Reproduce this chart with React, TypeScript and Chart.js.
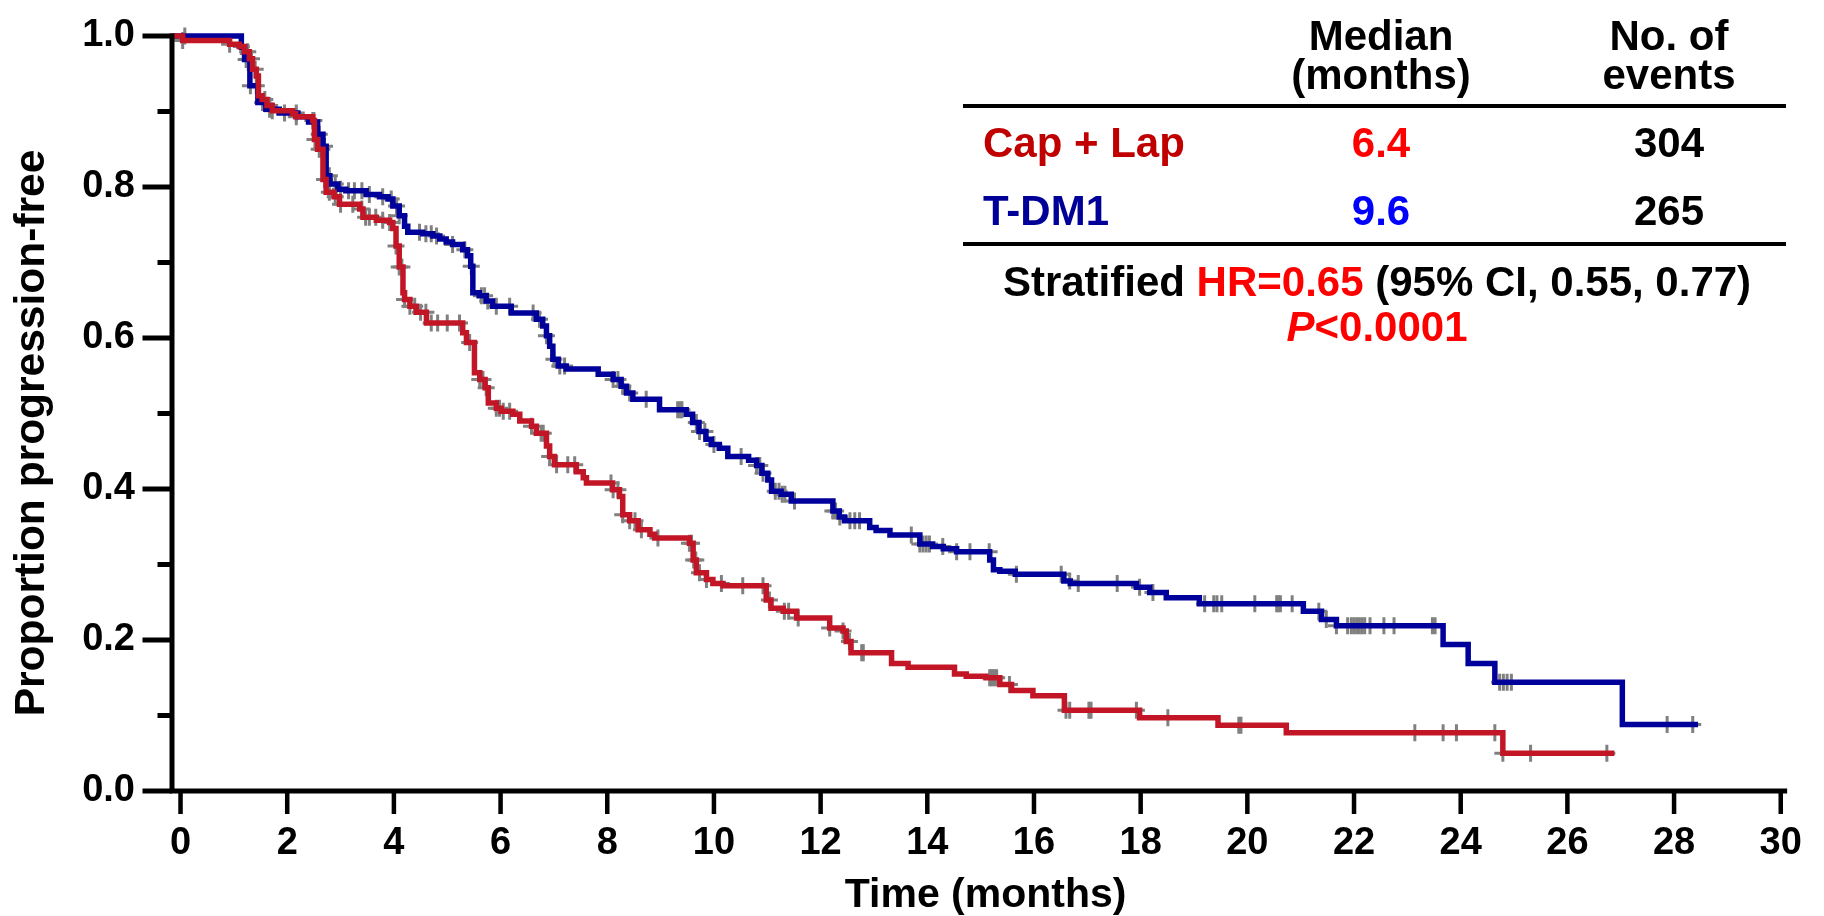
import React, { useEffect, useRef } from "react";
import { Chart, registerables } from "chart.js";

Chart.register(...registerables);

// ---------- data ----------
// Cap + Lap (red): event times (months) and survival after each drop
const capLapTimes = [0, 0.04, 0.92, 1.1, 1.2, 1.29, 1.35, 1.42, 1.46, 1.53, 1.62, 1.72, 2.1, 2.16, 2.48, 2.51, 2.57, 2.67, 2.73, 2.88, 2.98, 3.36, 3.42, 3.67, 3.92, 3.98, 4.04, 4.1, 4.17, 4.2, 4.3, 4.42, 4.61, 5.29, 5.36, 5.51, 5.61, 5.71, 5.77, 5.92, 6.01, 6.23, 6.36, 6.58, 6.67, 6.86, 6.92, 7.01, 7.42, 7.55, 7.61, 8.1, 8.23, 8.29, 8.42, 8.58, 8.8, 8.89, 9.54, 9.61, 9.67, 9.86, 9.98, 10.17, 10.98, 11.07, 11.3, 11.55, 12.17, 12.42, 12.48, 12.57, 13.33, 13.64, 14.51, 14.73, 15.1, 15.36, 15.58, 15.98, 16.57, 17.98, 19.45, 20.73, 24.79];
const capLapSurv = [1.0, 0.994, 0.989, 0.986, 0.979, 0.97, 0.956, 0.947, 0.921, 0.916, 0.908, 0.901, 0.897, 0.893, 0.888, 0.863, 0.85, 0.81, 0.793, 0.787, 0.777, 0.771, 0.76, 0.756, 0.753, 0.745, 0.722, 0.694, 0.66, 0.651, 0.642, 0.634, 0.62, 0.607, 0.594, 0.554, 0.545, 0.534, 0.514, 0.507, 0.503, 0.499, 0.49, 0.483, 0.474, 0.457, 0.443, 0.432, 0.423, 0.415, 0.408, 0.399, 0.39, 0.366, 0.358, 0.346, 0.34, 0.335, 0.328, 0.306, 0.289, 0.28, 0.275, 0.272, 0.253, 0.242, 0.238, 0.229, 0.216, 0.212, 0.198, 0.183, 0.169, 0.164, 0.155, 0.152, 0.15, 0.141, 0.133, 0.126, 0.107, 0.097, 0.087, 0.077, 0.05];
const capLapLastFollowUp = 26.88;
const capLapCensored = [0.04, 0.92, 1.14, 1.26, 1.33, 1.4, 1.58, 1.67, 1.72, 2.17, 2.48, 2.5, 2.52, 2.55, 2.6, 2.65, 2.7, 2.79, 2.9, 3.0, 3.23, 3.4, 3.47, 3.54, 3.66, 3.79, 3.92, 4.04, 4.1, 4.15, 4.2, 4.3, 4.39, 4.5, 4.6, 4.7, 4.82, 5.0, 5.23, 5.42, 5.61, 5.67, 5.73, 5.92, 5.98, 6.05, 6.17, 6.58, 6.76, 6.8, 6.92, 7.05, 7.26, 7.39, 8.07, 8.11, 8.2, 8.29, 8.42, 8.52, 8.64, 8.95, 9.54, 9.58, 9.62, 9.66, 9.73, 9.86, 10.14, 10.54, 10.92, 11.04, 11.32, 11.4, 11.58, 12.17, 12.42, 12.54, 12.77, 12.8, 15.17, 15.2, 15.23, 15.27, 15.3, 15.54, 16.6, 16.67, 17.03, 17.07, 17.92, 18.51, 19.84, 19.88, 23.14, 23.67, 23.92, 24.64, 24.79, 25.31, 26.74];

// T-DM1 (blue)
const tdm1Times = [0, 1.14, 1.2, 1.3, 1.45, 1.6, 1.85, 2.2, 2.4, 2.57, 2.67, 2.73, 2.8, 2.95, 3.1, 3.48, 3.73, 3.89, 3.98, 4.1, 4.2, 4.26, 4.54, 4.73, 4.86, 4.98, 5.1, 5.29, 5.38, 5.44, 5.48, 5.6, 5.73, 5.85, 6.2, 6.67, 6.79, 6.86, 6.92, 6.98, 7.08, 7.23, 7.83, 8.11, 8.26, 8.36, 8.48, 8.98, 9.48, 9.6, 9.72, 9.85, 9.95, 10.1, 10.26, 10.65, 10.8, 10.9, 11.01, 11.08, 11.26, 11.45, 12.23, 12.35, 12.45, 12.92, 13.04, 13.3, 13.86, 14.1, 14.3, 14.55, 15.17, 15.24, 15.36, 15.65, 16.56, 16.68, 17.92, 18.17, 18.48, 19.1, 21.05, 21.39, 21.67, 23.67, 24.14, 24.64, 27.03];
const tdm1Surv = [1.0, 0.985, 0.969, 0.934, 0.912, 0.903, 0.898, 0.893, 0.886, 0.87, 0.854, 0.815, 0.804, 0.797, 0.795, 0.79, 0.787, 0.784, 0.775, 0.762, 0.748, 0.74, 0.738, 0.735, 0.731, 0.727, 0.724, 0.717, 0.709, 0.695, 0.66, 0.656, 0.649, 0.642, 0.633, 0.625, 0.616, 0.603, 0.589, 0.572, 0.563, 0.559, 0.552, 0.545, 0.536, 0.527, 0.519, 0.505, 0.499, 0.488, 0.476, 0.466, 0.459, 0.454, 0.443, 0.438, 0.431, 0.421, 0.412, 0.397, 0.393, 0.384, 0.371, 0.363, 0.358, 0.349, 0.345, 0.339, 0.327, 0.324, 0.321, 0.317, 0.306, 0.293, 0.291, 0.287, 0.278, 0.275, 0.27, 0.263, 0.256, 0.248, 0.238, 0.227, 0.219, 0.194, 0.169, 0.144, 0.088];
const tdm1LastFollowUp = 28.45;
const tdm1Censored = [0.08, 1.23, 1.31, 1.42, 1.54, 1.67, 1.95, 2.17, 2.6, 2.7, 2.79, 2.9, 3.0, 3.15, 3.26, 3.4, 3.54, 3.79, 3.95, 4.05, 4.1, 4.48, 4.6, 4.7, 4.8, 5.1, 5.33, 5.45, 5.64, 5.7, 5.76, 5.92, 6.17, 6.61, 6.73, 6.86, 7.0, 7.11, 7.2, 8.11, 8.2, 8.29, 8.42, 8.73, 9.32, 9.36, 9.4, 9.67, 9.73, 9.83, 10.0, 10.51, 10.8, 10.86, 10.92, 11.15, 11.22, 11.28, 11.33, 11.51, 12.23, 12.28, 12.36, 12.55, 12.64, 12.73, 13.7, 13.86, 13.92, 13.98, 14.04, 14.29, 14.55, 14.8, 15.16, 15.67, 16.51, 16.67, 16.83, 17.56, 17.98, 18.23, 19.2, 19.37, 19.43, 19.52, 20.14, 20.55, 20.58, 20.62, 20.84, 21.34, 21.48, 21.67, 21.88, 21.95, 22.0, 22.05, 22.1, 22.15, 22.2, 22.3, 22.56, 22.75, 23.47, 23.52, 24.73, 24.8, 24.87, 24.95, 27.87, 28.35];

// axes
const xAxisMin = -0.16;
const xAxisMax = 30.12;
const xTickValues = [0, 2, 4, 6, 8, 10, 12, 14, 16, 18, 20, 22, 24, 26, 28, 30];
const yTickValues = [0, 0.2, 0.4, 0.6, 0.8, 1.0];
const yMinorTickValues = [0.1, 0.3, 0.5, 0.7, 0.9];
const xAxisTitle = "Time (months)";
const yAxisTitle = "Proportion progression-free";

// summary table
const tableHeaders = [["Median", "(months)"], ["No. of", "events"]];
const armNames = ["Cap + Lap", "T-DM1"];
const armMedians = ["6.4", "9.6"];
const armEvents = ["304", "265"];
const hrParts = ["Stratified ", "HR=0.65", " (95% CI, 0.55, 0.77)"];
const pParts = ["P", "<0.0001"];

// ---------- styling ----------
const FONT = '"Liberation Sans", Arial, Helvetica, sans-serif';
const RED_LINE = "rgb(194, 22, 38)";
const BLUE_LINE = "rgb(0, 0, 155)";
const GRAY = "rgb(128, 128, 128)";
const ARM_NAME_COLORS = ["rgb(192, 0, 0)", "rgb(0, 0, 153)"];
const ARM_MEDIAN_COLORS = ["rgb(255, 0, 0)", "rgb(0, 0, 255)"];

// step curve, drawn from the y-axis (axis minimum) to the last follow-up time
function stepPoints(times: number[], surv: number[], end: number) {
  const n = Math.min(times.length, surv.length);
  const pts: { x: number; y: number }[] = [{ x: xAxisMin, y: surv[0] }];
  for (let i = 0; i < n; i++) pts.push({ x: times[i], y: surv[i] });
  pts.push({ x: end, y: surv[n - 1] });
  return pts;
}

function survivalAt(times: number[], surv: number[], t: number) {
  let s = surv[0];
  const n = Math.min(times.length, surv.length);
  for (let i = 0; i < n; i++) if (times[i] <= t + 1e-9) s = surv[i];
  return s;
}

function censorPoints(cens: number[], times: number[], surv: number[]) {
  return cens.map((t) => ({ x: t, y: survivalAt(times, surv, t) }));
}

const axesPlugin = {
  id: "kmAxes",
  afterDatasetsDraw(chart: any) {
    const { ctx, chartArea } = chart;
    const xs = chart.scales.x;
    const ys = chart.scales.y;
    const left = chartArea.left;
    const bottom = chartArea.bottom;
    const lw = 5;
    ctx.save();
    ctx.strokeStyle = "#000";
    ctx.lineCap = "butt";
    ctx.lineWidth = lw;
    ctx.beginPath();
    ctx.moveTo(left, ys.getPixelForValue(1) - lw / 2);
    ctx.lineTo(left, bottom + lw / 2);
    ctx.moveTo(left, bottom);
    ctx.lineTo(chartArea.right, bottom);
    ctx.stroke();
    // y ticks
    ctx.lineWidth = 5;
    ctx.beginPath();
    for (const v of yTickValues) {
      const y = ys.getPixelForValue(v);
      ctx.moveTo(left - lw / 2 - 27, y);
      ctx.lineTo(left, y);
    }
    for (const v of yMinorTickValues) {
      const y = ys.getPixelForValue(v);
      ctx.moveTo(left - lw / 2 - 12, y);
      ctx.lineTo(left, y);
    }
    ctx.stroke();
    // x ticks
    ctx.lineWidth = 4.5;
    ctx.beginPath();
    for (const v of xTickValues) {
      const x = xs.getPixelForValue(v);
      ctx.moveTo(x, bottom);
      ctx.lineTo(x, bottom + 23);
    }
    ctx.stroke();
    ctx.restore();
  },
  afterDraw(chart: any) {
    const { ctx, chartArea } = chart;
    ctx.save();
    ctx.fillStyle = "#000";
    ctx.textBaseline = "alphabetic";

    // axis titles
    ctx.font = `bold 41px ${FONT}`;
    ctx.textAlign = "center";
    ctx.fillText(xAxisTitle, (chartArea.left + chartArea.right) / 2 + 6, 907);
    ctx.save();
    ctx.font = `bold 42.5px ${FONT}`;
    ctx.translate(44, 433);
    ctx.rotate(-Math.PI / 2);
    ctx.fillText(yAxisTitle, 0, 0);
    ctx.restore();

    // table
    const colMedian = 1381;
    const colEvents = 1669;
    const nameLeft = 983;
    ctx.font = `bold 42px ${FONT}`;
    ctx.textAlign = "center";
    ctx.fillText(tableHeaders[0][0], colMedian, 50);
    ctx.fillText(tableHeaders[0][1], colMedian, 89);
    ctx.fillText(tableHeaders[1][0], colEvents, 50);
    ctx.fillText(tableHeaders[1][1], colEvents, 89);

    ctx.strokeStyle = "#000";
    ctx.lineWidth = 4;
    ctx.beginPath();
    ctx.moveTo(963, 106);
    ctx.lineTo(1786, 106);
    ctx.moveTo(963, 244);
    ctx.lineTo(1786, 244);
    ctx.stroke();

    const rowBase = [157, 225];
    for (let i = 0; i < armNames.length; i++) {
      ctx.textAlign = "left";
      ctx.fillStyle = ARM_NAME_COLORS[i];
      ctx.fillText(armNames[i], nameLeft, rowBase[i]);
      ctx.textAlign = "center";
      ctx.fillStyle = ARM_MEDIAN_COLORS[i];
      ctx.fillText(armMedians[i], colMedian, rowBase[i]);
      ctx.fillStyle = "#000";
      ctx.fillText(armEvents[i], colEvents, rowBase[i]);
    }

    // HR line
    ctx.textAlign = "left";
    const hrColors = ["#000", "rgb(255, 0, 0)", "#000"];
    const hrWidths = hrParts.map((p) => ctx.measureText(p).width);
    let x = 1377 - hrWidths.reduce((a, b) => a + b, 0) / 2;
    hrParts.forEach((p, i) => {
      ctx.fillStyle = hrColors[i];
      ctx.fillText(p, x, 296);
      x += hrWidths[i];
    });

    // P line
    ctx.fillStyle = "rgb(255, 0, 0)";
    const italic = `italic bold 42px ${FONT}`;
    const normal = `bold 42px ${FONT}`;
    ctx.font = italic;
    const w0 = ctx.measureText(pParts[0]).width;
    ctx.font = normal;
    const w1 = ctx.measureText(pParts[1]).width;
    let px = 1377 - (w0 + w1) / 2;
    ctx.font = italic;
    ctx.fillText(pParts[0], px, 341);
    ctx.font = normal;
    ctx.fillText(pParts[1], px + w0, 341);
    ctx.restore();
  },
};

export default function App() {
  const canvasRef = useRef<HTMLCanvasElement | null>(null);

  useEffect(() => {
    const canvas = canvasRef.current;
    if (!canvas) return;
    const tickFont = { family: FONT, size: 38, weight: "bold" as const };
    const censorStyle = {
      type: "scatter",
      pointStyle: "cross",
      pointRadius: 8.5,
      borderColor: GRAY,
      backgroundColor: GRAY,
      borderWidth: 3,
      showLine: false,
      clip: false,
      order: 3,
    };
    const chart = new Chart(canvas, {
      type: "line",
      data: {
        datasets: [
          {
            label: armNames[0],
            data: stepPoints(capLapTimes, capLapSurv, capLapLastFollowUp),
            borderColor: RED_LINE,
            borderWidth: 5.5,
            stepped: "before",
            pointRadius: 0,
            fill: false,
            clip: false as any,
            order: 1,
          },
          {
            label: armNames[1],
            data: stepPoints(tdm1Times, tdm1Surv, tdm1LastFollowUp),
            borderColor: BLUE_LINE,
            borderWidth: 5.5,
            stepped: "before",
            pointRadius: 0,
            fill: false,
            clip: false as any,
            order: 2,
          },
          {
            ...censorStyle,
            label: "censored-red",
            data: censorPoints(capLapCensored, capLapTimes, capLapSurv),
          } as any,
          {
            ...censorStyle,
            label: "censored-blue",
            data: censorPoints(tdm1Censored, tdm1Times, tdm1Surv),
          } as any,
        ],
      },
      options: {
        responsive: false,
        animation: false,
        devicePixelRatio: 1,
        events: [],
        layout: { padding: { left: 0, right: 30, top: 36, bottom: 0 } },
        scales: {
          x: {
            type: "linear",
            min: xAxisMin,
            max: xAxisMax,
            grid: { display: false, drawTicks: true, tickLength: 8 },
            border: { display: false },
            ticks: {
              font: tickFont,
              color: "#000",
              padding: 22,
              maxRotation: 0,
              autoSkip: false,
              callback: (v: any) => String(v),
            },
            afterBuildTicks: (s: any) => {
              s.ticks = xTickValues.map((v) => ({ value: v }));
            },
            afterFit: (s: any) => {
              s.height = 125;
            },
          },
          y: {
            type: "linear",
            min: 0,
            max: 1,
            grid: { display: false, drawTicks: true, tickLength: 30 },
            border: { display: false },
            ticks: {
              font: tickFont,
              color: "#000",
              padding: 7,
              autoSkip: false,
              callback: (v: any) => Number(v).toFixed(1),
            },
            afterBuildTicks: (s: any) => {
              s.ticks = yTickValues.map((v) => ({ value: v }));
            },
            afterFit: (s: any) => {
              s.width = 172;
            },
          },
        },
        plugins: {
          legend: { display: false },
          tooltip: { enabled: false },
          title: { display: false },
        },
      },
      plugins: [axesPlugin],
    });
    return () => chart.destroy();
  }, []);

  return (
    <div
      style={{
        position: "fixed",
        left: 0,
        top: 0,
        width: 1824,
        height: 916,
        background: "#fff",
        overflow: "hidden",
      }}
    >
      <canvas ref={canvasRef} width={1824} height={916} style={{ display: "block" }} />
    </div>
  );
}
